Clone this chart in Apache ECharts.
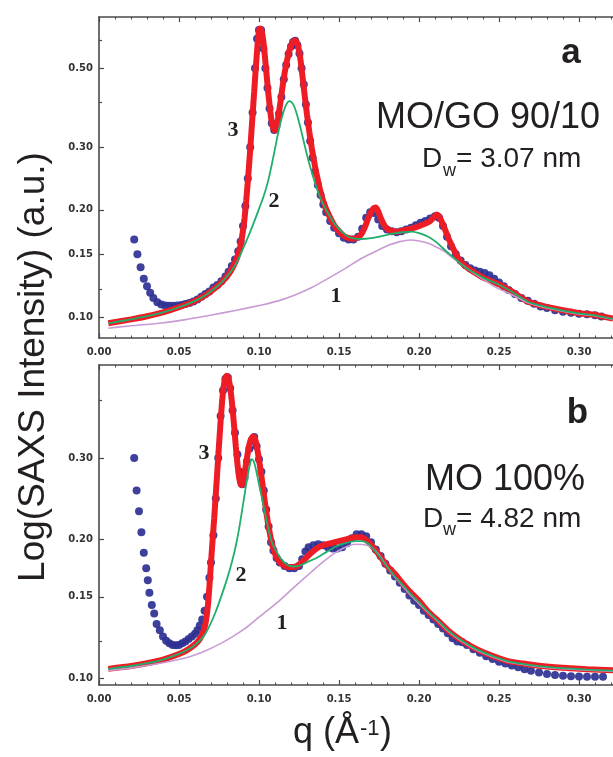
<!DOCTYPE html>
<html>
<head>
<meta charset="utf-8">
<script src="https://cdn.jsdelivr.net/npm/echarts@6/dist/echarts.min.js"></script>
<style>
html,body{margin:0;padding:0;background:#fff;}
#c{width:613px;height:757px;}
</style>
</head>
<body>
<div id="c"></div>
<script>
// ---------- data (q in 1/Å, intensity in a.u.) ----------
// Panel a : MO/GO 90/10
const saxsA = [[0.0220,0.165],[0.0240,0.150],[0.0260,0.138],[0.0280,0.128],[0.0300,0.122],[0.0320,0.117],[0.0340,0.113],[0.0365,0.110],[0.0390,0.1085],[0.0415,0.1078],[0.0440,0.1075],[0.0465,0.1075],[0.0490,0.1078],[0.0515,0.108],[0.0540,0.1088],[0.0565,0.1095],[0.0590,0.1105],[0.0615,0.112],[0.0640,0.114],[0.0665,0.116],[0.0690,0.118],[0.0715,0.121],[0.0740,0.123],[0.0765,0.126],[0.0790,0.130],[0.0810,0.134],[0.0830,0.139],[0.0850,0.145],[0.0870,0.153],[0.0885,0.163],[0.0900,0.180],[0.0915,0.205],[0.0930,0.245],[0.0945,0.300],[0.0960,0.375],[0.0975,0.500],[0.0988,0.605],[0.1000,0.640],[0.1013,0.640],[0.1027,0.568],[0.1040,0.500],[0.1053,0.440],[0.1066,0.385],[0.1080,0.350],[0.1095,0.335],[0.1110,0.345],[0.1125,0.372],[0.1140,0.415],[0.1155,0.465],[0.1170,0.510],[0.1185,0.548],[0.1200,0.575],[0.1213,0.592],[0.1226,0.597],[0.1240,0.580],[0.1253,0.550],[0.1266,0.500],[0.1280,0.450],[0.1293,0.395],[0.1306,0.352],[0.1320,0.312],[0.1335,0.280],[0.1350,0.256],[0.1368,0.235],[0.1385,0.220],[0.1402,0.207],[0.1420,0.197],[0.1445,0.186],[0.1470,0.178],[0.1500,0.172],[0.1530,0.167],[0.1560,0.165],[0.1590,0.165],[0.1620,0.168],[0.1645,0.177],[0.1670,0.190],[0.1695,0.197],[0.1720,0.196],[0.1745,0.188],[0.1770,0.180],[0.1800,0.176],[0.1830,0.174],[0.1860,0.173],[0.1890,0.174],[0.1920,0.176],[0.1950,0.178],[0.1980,0.181],[0.2010,0.184],[0.2040,0.186],[0.2070,0.189],[0.2100,0.192],[0.2125,0.190],[0.2150,0.180],[0.2175,0.168],[0.2200,0.158],[0.2230,0.150],[0.2260,0.144],[0.2290,0.140],[0.2320,0.137],[0.2350,0.135],[0.2380,0.134],[0.2410,0.133],[0.2440,0.131],[0.2470,0.128],[0.2500,0.125],[0.2530,0.122],[0.2560,0.119],[0.2600,0.116],[0.2640,0.113],[0.2680,0.111],[0.2720,0.109],[0.2760,0.107],[0.2800,0.106],[0.2850,0.1045],[0.2900,0.1035],[0.2950,0.1028],[0.3000,0.1022],[0.3050,0.1018],[0.3100,0.1012],[0.3140,0.1003]];
const fitA = [[0.0058,0.096],[0.020,0.0985],[0.030,0.1005],[0.040,0.1030],[0.050,0.1065],[0.060,0.1110],[0.067,0.1155],[0.073,0.121],[0.078,0.127],[0.082,0.134],[0.085,0.142],[0.087,0.150],[0.0885,0.159],[0.090,0.175],[0.091,0.190],[0.092,0.212],[0.093,0.240],[0.094,0.275],[0.095,0.318],[0.096,0.370],[0.097,0.430],[0.098,0.500],[0.099,0.575],[0.0995,0.612],[0.1003,0.645],[0.101,0.646],[0.102,0.625],[0.103,0.580],[0.104,0.520],[0.105,0.465],[0.106,0.418],[0.107,0.380],[0.108,0.352],[0.109,0.338],[0.110,0.334],[0.111,0.342],[0.112,0.362],[0.113,0.390],[0.114,0.420],[0.115,0.452],[0.116,0.484],[0.117,0.512],[0.118,0.538],[0.119,0.560],[0.120,0.578],[0.121,0.590],[0.122,0.598],[0.123,0.597],[0.124,0.585],[0.125,0.560],[0.126,0.525],[0.127,0.482],[0.128,0.440],[0.129,0.403],[0.130,0.370],[0.1315,0.330],[0.133,0.298],[0.135,0.265],[0.137,0.240],[0.139,0.220],[0.141,0.206],[0.144,0.192],[0.147,0.181],[0.150,0.174],[0.153,0.169],[0.156,0.1665],[0.159,0.166],[0.162,0.1675],[0.164,0.171],[0.166,0.178],[0.168,0.188],[0.170,0.197],[0.1715,0.202],[0.173,0.203],[0.1745,0.198],[0.176,0.190],[0.178,0.182],[0.180,0.177],[0.183,0.1745],[0.186,0.1735],[0.190,0.175],[0.195,0.177],[0.200,0.180],[0.204,0.183],[0.207,0.186],[0.2095,0.191],[0.211,0.194],[0.2125,0.192],[0.214,0.186],[0.2163,0.176],[0.2185,0.166],[0.2204,0.159],[0.2225,0.152],[0.2246,0.146],[0.2288,0.139],[0.234,0.134],[0.240,0.129],[0.250,0.1235],[0.258,0.118],[0.2683,0.1104],[0.278,0.1073],[0.2892,0.1046],[0.300,0.1025],[0.310,0.1013],[0.3213,0.0990]];
const peakA = [[0.0058,0.096],[0.020,0.0985],[0.030,0.1005],[0.040,0.1030],[0.050,0.1065],[0.060,0.1110],[0.067,0.1155],[0.073,0.121],[0.078,0.127],[0.0829,0.135],[0.087,0.145],[0.0912,0.160],[0.0955,0.178],[0.0996,0.199],[0.103,0.219],[0.1058,0.242],[0.1085,0.275],[0.111,0.313],[0.113,0.345],[0.1152,0.376],[0.117,0.395],[0.119,0.404],[0.1208,0.399],[0.1225,0.385],[0.1245,0.360],[0.1267,0.329],[0.1288,0.300],[0.1308,0.276],[0.133,0.255],[0.135,0.238],[0.138,0.218],[0.1412,0.203],[0.1445,0.191],[0.1475,0.182],[0.1515,0.174],[0.1558,0.168],[0.160,0.166],[0.1642,0.1656],[0.170,0.1665],[0.1746,0.168],[0.180,0.170],[0.185,0.172],[0.190,0.173],[0.1954,0.1737],[0.200,0.172],[0.2058,0.168],[0.211,0.162],[0.2163,0.154],[0.2204,0.1485],[0.2246,0.143],[0.2288,0.138],[0.234,0.1335],[0.240,0.129],[0.250,0.1232],[0.258,0.1178],[0.2683,0.1102],[0.278,0.1071],[0.2892,0.1044],[0.300,0.1023],[0.310,0.1011],[0.3213,0.0988]];
const broadA = [[0.0058,0.093],[0.020,0.0945],[0.0392,0.0962],[0.055,0.0985],[0.0704,0.1013],[0.086,0.1045],[0.1017,0.1081],[0.112,0.111],[0.1225,0.1153],[0.133,0.121],[0.1433,0.1284],[0.154,0.137],[0.1642,0.1462],[0.173,0.153],[0.1808,0.159],[0.188,0.1628],[0.1944,0.1645],[0.200,0.1635],[0.2058,0.161],[0.211,0.157],[0.2163,0.1525],[0.2215,0.146],[0.2267,0.1405],[0.232,0.135],[0.238,0.1295],[0.2475,0.1215],[0.258,0.1155],[0.2683,0.1096],[0.278,0.1065],[0.2892,0.1040],[0.300,0.1020],[0.310,0.1008],[0.3213,0.0985]];

// Panel b : MO 100%
const saxsB = [[0.0220,0.300],[0.0235,0.255],[0.0250,0.230],[0.0265,0.207],[0.0280,0.187],[0.0295,0.173],[0.0305,0.163],[0.0315,0.153],[0.0330,0.144],[0.0345,0.138],[0.0360,0.131],[0.0380,0.127],[0.0400,0.123],[0.0420,0.1205],[0.0440,0.119],[0.0460,0.118],[0.0480,0.1178],[0.0500,0.118],[0.0520,0.119],[0.0540,0.120],[0.0560,0.1215],[0.0580,0.123],[0.0600,0.1248],[0.0615,0.127],[0.0630,0.130],[0.0645,0.134],[0.0660,0.140],[0.0675,0.150],[0.0690,0.165],[0.0700,0.178],[0.0715,0.204],[0.0730,0.245],[0.0745,0.300],[0.0760,0.370],[0.0775,0.420],[0.0790,0.445],[0.0805,0.448],[0.0820,0.425],[0.0835,0.380],[0.0850,0.340],[0.0865,0.305],[0.0880,0.280],[0.0895,0.263],[0.0910,0.272],[0.0925,0.295],[0.0940,0.314],[0.0955,0.327],[0.0970,0.333],[0.0985,0.318],[0.1000,0.298],[0.1015,0.280],[0.1030,0.255],[0.1045,0.232],[0.1060,0.213],[0.1075,0.197],[0.1090,0.189],[0.1110,0.182],[0.1130,0.178],[0.1160,0.175],[0.1190,0.173],[0.1220,0.173],[0.1250,0.175],[0.1270,0.181],[0.1290,0.188],[0.1310,0.192],[0.1340,0.194],[0.1370,0.195],[0.1400,0.194],[0.1430,0.192],[0.1460,0.191],[0.1490,0.191],[0.1520,0.192],[0.1550,0.196],[0.1580,0.201],[0.1610,0.205],[0.1640,0.205],[0.1670,0.203],[0.1700,0.197],[0.1730,0.190],[0.1760,0.184],[0.1790,0.177],[0.1820,0.171],[0.1850,0.166],[0.1880,0.161],[0.1910,0.156],[0.1940,0.151],[0.1970,0.147],[0.2000,0.144],[0.2030,0.140],[0.2060,0.137],[0.2090,0.134],[0.2120,0.131],[0.2150,0.128],[0.2180,0.125],[0.2210,0.122],[0.2240,0.120],[0.2270,0.1195],[0.2300,0.118],[0.2340,0.1155],[0.2380,0.1135],[0.2420,0.1115],[0.2460,0.110],[0.2500,0.1085],[0.2540,0.1075],[0.2580,0.1065],[0.2620,0.1055],[0.2660,0.1045],[0.2700,0.1037],[0.2750,0.1028],[0.2800,0.1020],[0.2850,0.1016],[0.2900,0.1012],[0.2950,0.1009],[0.3000,0.1008],[0.3050,0.1006],[0.3100,0.1006],[0.3150,0.1006]];
const fitB = [[0.0058,0.1047],[0.020,0.1062],[0.030,0.1077],[0.040,0.1097],[0.050,0.1128],[0.055,0.1150],[0.060,0.1183],[0.063,0.1215],[0.065,0.1255],[0.0665,0.131],[0.068,0.143],[0.069,0.158],[0.070,0.178],[0.071,0.199],[0.072,0.222],[0.073,0.250],[0.074,0.283],[0.075,0.320],[0.076,0.360],[0.077,0.400],[0.078,0.430],[0.079,0.448],[0.0798,0.452],[0.0805,0.450],[0.0815,0.437],[0.0825,0.413],[0.0835,0.383],[0.0845,0.350],[0.0855,0.318],[0.0865,0.292],[0.0875,0.273],[0.0885,0.263],[0.0895,0.262],[0.0905,0.270],[0.0915,0.285],[0.0925,0.300],[0.0935,0.315],[0.0945,0.326],[0.0955,0.332],[0.0965,0.334],[0.0975,0.330],[0.0985,0.320],[0.0995,0.305],[0.101,0.282],[0.1025,0.258],[0.104,0.236],[0.1055,0.218],[0.107,0.204],[0.1085,0.193],[0.110,0.186],[0.112,0.180],[0.115,0.176],[0.118,0.174],[0.121,0.174],[0.124,0.175],[0.128,0.180],[0.132,0.186],[0.136,0.191],[0.140,0.194],[0.145,0.196],[0.150,0.198],[0.155,0.200],[0.160,0.202],[0.164,0.202],[0.168,0.198],[0.172,0.191],[0.176,0.183],[0.180,0.175],[0.185,0.168],[0.190,0.160],[0.195,0.153],[0.200,0.147],[0.206,0.139],[0.212,0.133],[0.218,0.127],[0.226,0.121],[0.235,0.116],[0.245,0.112],[0.255,0.109],[0.265,0.1075],[0.275,0.1063],[0.285,0.1055],[0.295,0.1050],[0.305,0.1045],[0.3213,0.1040]];
const peakB = [[0.0058,0.1047],[0.020,0.1062],[0.030,0.1077],[0.040,0.1097],[0.050,0.1128],[0.055,0.1150],[0.060,0.1180],[0.0663,0.1245],[0.0725,0.138],[0.0788,0.159],[0.082,0.173],[0.085,0.190],[0.0875,0.210],[0.0902,0.240],[0.092,0.263],[0.0933,0.279],[0.0945,0.292],[0.0954,0.298],[0.0965,0.296],[0.0975,0.289],[0.0985,0.279],[0.100,0.263],[0.1017,0.247],[0.1035,0.230],[0.1058,0.211],[0.108,0.197],[0.111,0.1877],[0.1145,0.180],[0.1183,0.1755],[0.1225,0.1745],[0.1267,0.176],[0.131,0.179],[0.135,0.1814],[0.1415,0.187],[0.1475,0.1923],[0.154,0.196],[0.160,0.198],[0.1645,0.198],[0.1683,0.1956],[0.1745,0.185],[0.1808,0.173],[0.185,0.166],[0.190,0.159],[0.195,0.152],[0.200,0.146],[0.206,0.139],[0.212,0.133],[0.218,0.127],[0.226,0.121],[0.235,0.116],[0.245,0.112],[0.255,0.109],[0.265,0.1073],[0.275,0.1061],[0.285,0.1053],[0.295,0.1048],[0.305,0.1043],[0.3213,0.1038]];
const broadB = [[0.0058,0.1039],[0.020,0.1052],[0.0392,0.1078],[0.055,0.1108],[0.0663,0.1145],[0.075,0.1183],[0.083,0.1227],[0.0912,0.1280],[0.100,0.1355],[0.1121,0.1465],[0.122,0.1575],[0.1329,0.1700],[0.140,0.1785],[0.1475,0.1868],[0.154,0.1922],[0.160,0.1950],[0.165,0.1948],[0.1704,0.1920],[0.1745,0.186],[0.1808,0.173],[0.185,0.1655],[0.190,0.158],[0.195,0.151],[0.200,0.145],[0.206,0.1385],[0.212,0.1325],[0.218,0.1265],[0.226,0.1205],[0.235,0.1155],[0.245,0.1115],[0.255,0.1085],[0.265,0.107],[0.275,0.1058],[0.285,0.105],[0.295,0.1045],[0.305,0.104],[0.3213,0.1035]];

// ---------- tick labels ----------
const xTicks = [0.00, 0.05, 0.10, 0.15, 0.20, 0.25, 0.30];
const yTicksA = [0.10, 0.15, 0.20, 0.30, 0.50];
const yMinorA = [0.12, 0.40, 0.60];
const yTicksB = [0.10, 0.15, 0.20, 0.30];
const yMinorB = [0.12, 0.40];

// ---------- chart ----------
const FRAME = '#4a4a4a';
const tickFont = {fontFamily: 'DejaVu Sans', fontWeight: 'bold', fontSize: 10, color: '#333'};

function xAxis(grid, pos, labels) {
  return {
    type: 'value', gridIndex: grid, position: pos, min: 0, max: 0.35, interval: 0.05,
    axisLine: {show: true, onZero: false, lineStyle: {color: FRAME, width: 1.6}},
    axisTick: {show: true, inside: true, length: 5, lineStyle: {color: FRAME, width: 1.2}},
    minorTick: {show: true, splitNumber: 5, length: 2.5, lineStyle: {color: FRAME, width: 1}},
    axisLabel: Object.assign({show: labels, margin: 9, customValues: xTicks,
      formatter: v => Number(v).toFixed(2)}, tickFont),
    splitLine: {show: false}, minorSplitLine: {show: false}
  };
}
function yAxis(grid, min, max, ticks, len, main) {
  return {
    type: 'log', logBase: 10, gridIndex: grid, position: 'left', min: min, max: max,
    axisLine: {show: main, onZero: false, lineStyle: {color: FRAME, width: 1.6}},
    axisTick: {show: true, inside: true, length: len, customValues: ticks, lineStyle: {color: FRAME, width: 1.2}},
    axisLabel: Object.assign({show: main, margin: 6, customValues: ticks,
      formatter: v => Number(v).toFixed(2)}, tickFont),
    splitLine: {show: false}
  };
}
function lineS(data, xi, yi, color, width, z) {
  return {type: 'line', data: data, xAxisIndex: xi, yAxisIndex: yi, showSymbol: false, symbol: 'none',
    smooth: 0.2, lineStyle: {color: color, width: width}, z: z, silent: true, animation: false};
}
function dotS(data, xi, yi) {
  return {type: 'scatter', data: data, xAxisIndex: xi, yAxisIndex: yi, symbol: 'circle', symbolSize: 8,
    itemStyle: {color: '#2e3192', opacity: 0.92}, z: 2, silent: true, animation: false};
}

const RED = '#ee1d25', GREEN = '#1fae6c', PURPLE = '#c99bd4';
const TXT = '#231f20';
function txt(x, y, text, font, align, extra) {
  return Object.assign({type: 'text', x: x, y: y, silent: true,
    style: {text: text, font: font, fill: TXT, align: align || 'left', verticalAlign: 'middle'}}, extra || {});
}
const sans = '"Liberation Sans", Arial, sans-serif';
const serifB = 'bold 22px "Liberation Serif", "Times New Roman", serif';

const option = {
  backgroundColor: '#ffffff',
  animation: false,
  grid: [
    {left: 99, top: 17, width: 560, height: 321, outerBoundsMode: 'none', containLabel: false},
    {left: 99, top: 365, width: 560, height: 320, outerBoundsMode: 'none', containLabel: false}
  ],
  xAxis: [xAxis(0, 'bottom', true), xAxis(0, 'top', false), xAxis(1, 'bottom', true), xAxis(1, 'top', false)],
  yAxis: [
    yAxis(0, 0.0873, 0.696, yTicksA, 5, true),
    yAxis(0, 0.0873, 0.696, yMinorA, 3, false),
    yAxis(1, 0.0966, 0.477, yTicksB, 5, true),
    yAxis(1, 0.0966, 0.477, yMinorB, 3, false)
  ],
  series: [
    dotS(saxsA, 0, 0),
    lineS(fitA, 0, 0, RED, 6, 3),
    lineS(broadA, 0, 0, PURPLE, 1.6, 4),
    lineS(peakA, 0, 0, GREEN, 1.8, 5),
    dotS(saxsB, 2, 2),
    lineS(fitB, 2, 2, RED, 6, 3),
    lineS(broadB, 2, 2, PURPLE, 1.6, 4),
    lineS(peakB, 2, 2, GREEN, 1.8, 5)
  ],
  graphic: [
    // axis titles
    txt(34, 367, 'Log(SAXS Intensity) (a.u.)', '37px ' + sans, 'center', {rotation: Math.PI / 2}),
    txt(293, 733.5, 'q (Å', '36px ' + sans, 'left'),
    txt(360, 729, '-1', '22px ' + sans, 'left'),
    txt(380, 733.5, ')', '36px ' + sans, 'left'),
    // panel a annotations
    txt(571, 53, 'a', 'bold 35px ' + sans, 'center'),
    txt(488, 118.5, 'MO/GO 90/10', '36px ' + sans, 'center'),
    txt(422, 159.3, 'D', '28px ' + sans, 'left'),
    txt(443, 170.8, 'w', '18px ' + sans, 'left'),
    txt(456, 159.3, '= 3.07 nm', '28px ' + sans, 'left'),
    txt(233, 130, '3', serifB, 'center'),
    txt(274, 201, '2', serifB, 'center'),
    txt(336, 296, '1', serifB, 'center'),
    // panel b annotations
    txt(577.5, 413, 'b', 'bold 35px ' + sans, 'center'),
    txt(505, 480, 'MO 100%', '36px ' + sans, 'center'),
    txt(423, 519.3, 'D', '28px ' + sans, 'left'),
    txt(443, 529.8, 'w', '18px ' + sans, 'left'),
    txt(456, 519.3, '= 4.82 nm', '28px ' + sans, 'left'),
    txt(204, 453, '3', serifB, 'center'),
    txt(241, 575, '2', serifB, 'center'),
    txt(282, 623, '1', serifB, 'center')
  ]
};

const chart = echarts.init(document.getElementById('c'), null, {renderer: 'canvas'});
chart.setOption(option);
</script>
</body>
</html>
